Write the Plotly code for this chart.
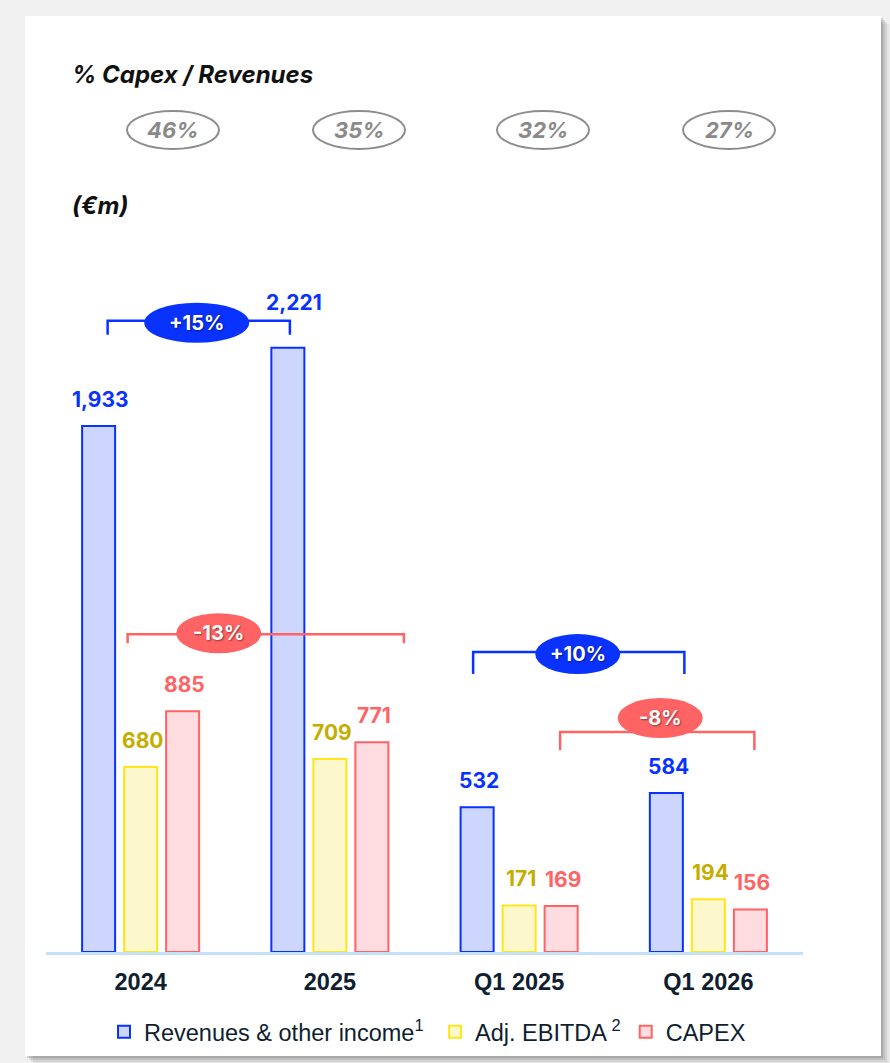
import plotly.graph_objects as go

# ---------------- data ----------------
categories = ["2024", "2025", "Q1 2025", "Q1 2026"]
revenues = [1933, 2221, 532, 584]
adj_ebitda = [680, 709, 171, 194]
capex = [885, 771, 169, 156]
series_names = [
    "Revenues & other income<sup>1</sup>\u00a0",
    "Adj. EBITDA<sup> 2</sup>",
    "CAPEX",
]

# ---------------- geometry / style ----------------
W, H = 890, 1063
ML, MR, MT, MB = 46, 87, 280, 111
PW, PH = W - ML - MR, H - MT - MB
YMAX = 2470
NCAT = len(categories)
SLOT = 42  # px between bars inside a group

def fx(px):
    return (px - ML) / PW

def fy(py):
    return (H - MB - py) / PH

def cat_px(i):
    return ML + (i + 0.5) * PW / NCAT

def val_py(v):
    return H - MB - v * PH / YMAX

BLUE, BLUE_FILL = "#0a32ff", "#ccd6ff"
YEL, YEL_FILL, YEL_TXT = "#ffe51a", "#fdf8cc", "#c4ad00"
RED, RED_FILL = "#ff6363", "#ffdcdf"
INK = "#0f1e30"

styles = [
    dict(fill=BLUE_FILL, line=BLUE, txt=BLUE),
    dict(fill=YEL_FILL, line=YEL, txt=YEL_TXT),
    dict(fill=RED_FILL, line=RED, txt=RED),
]
all_series = [revenues, adj_ebitda, capex]
xidx = list(range(NCAT))

fig = go.Figure()
for name, vals, st in zip(series_names, all_series, styles):
    fig.add_trace(go.Bar(
        x=categories, y=vals, name=name,
        marker=dict(color=st["fill"], line=dict(color=st["line"], width=2)),
        hoverinfo="skip",
    ))

shapes = []
annotations = []

# card + shadow
for k, a in enumerate([0.05, 0.07, 0.09, 0.12]):
    off = 8 - 2 * k
    shapes.append(dict(type="rect", xref="paper", yref="paper", layer="below",
                       x0=fx(25 + off), x1=fx(881 + off), y0=fy(1056 + off), y1=fy(16 + off),
                       fillcolor=f"rgba(0,0,0,{a})", line=dict(width=0)))
shapes.append(dict(type="rect", xref="paper", yref="paper", layer="below",
                   x0=fx(25), x1=fx(881), y0=fy(1056), y1=fy(16),
                   fillcolor="white", line=dict(width=0)))

# value labels
for j, (vals, st) in enumerate(zip(all_series, styles)):
    for i, v in enumerate(vals):
        ys = 27
        xs = (j - 1) * SLOT + 2
        if j == 0 and v == max(revenues):
            ys, xs = 45, (j - 1) * SLOT + 6
        annotations.append(dict(
            x=xidx[i], y=v, xref="x", yref="y", showarrow=False,
            xshift=xs, yshift=ys, xanchor="center", yanchor="middle",
            text=f"{v:,}",
            font=dict(family="Inter", size=21, color=st["txt"], weight="bold"),
        ))

# titles
annotations.append(dict(x=fx(70), y=fy(74), xref="paper", yref="paper", xanchor="left",
                        yanchor="middle", showarrow=False, text="<b><i>% Capex / Revenues</i></b>",
                        font=dict(family="Inter", size=24, color="#111111")))
annotations.append(dict(x=fx(70), y=fy(206), xref="paper", yref="paper", xanchor="left",
                        yanchor="middle", showarrow=False, text="<b><i>(€m)</i></b>",
                        font=dict(family="Inter", size=24, color="#111111")))

# capex / revenue ellipses
PCT_X = [173, 359, 543, 729]
PCT_Y = 130
for px, c, r in zip(PCT_X, capex, revenues):
    pct = round(100 * c / r)
    shapes.append(dict(type="circle", xref="paper", yref="paper",
                       x0=fx(px - 46), x1=fx(px + 46), y0=fy(PCT_Y + 19), y1=fy(PCT_Y - 19),
                       fillcolor="white", line=dict(color="#8c8c8c", width=2)))
    annotations.append(dict(x=fx(px), y=fy(PCT_Y), xref="paper", yref="paper", showarrow=False,
                            xanchor="center", yanchor="middle",
                            text=f"<b><i>{pct}%</i></b>",
                            font=dict(family="Inter", size=22, color="#8a8a8a")))

# growth brackets
brackets = [
    dict(s=0, a=0, b=1, dx0=-33, dx1=-40, rise=27, leg=14, ecx=-2, ecy=2, ew=105, col=BLUE),
    dict(s=2, a=0, b=1, dx0=-13, dx1=74, rise=77, leg=9, ecx=-47, ecy=-1, ew=85, col=RED),
    dict(s=0, a=2, b=3, dx0=-46, dx1=-24, rise=141, leg=22, ecx=-1, ecy=2, ew=85, col=BLUE),
    dict(s=2, a=2, b=3, dx0=41, dx1=46, rise=174, leg=18, ecx=3, ecy=-14, ew=85, col=RED),
]
for br in brackets:
    vals = all_series[br["s"]]
    va, vb = vals[br["a"]], vals[br["b"]]
    x0 = cat_px(br["a"]) + br["dx0"]
    x1 = cat_px(br["b"]) + br["dx1"]
    yl = val_py(max(va, vb)) - br["rise"]
    yb = yl + br["leg"]
    path = (f"M {fx(x0)},{fy(yb)} L {fx(x0)},{fy(yl)} "
            f"L {fx(x1)},{fy(yl)} L {fx(x1)},{fy(yb)}")
    shapes.append(dict(type="path", xref="paper", yref="paper", path=path,
                       line=dict(color=br["col"], width=2.5)))
    cx = (x0 + x1) / 2 + br["ecx"]
    cy = yl + br["ecy"]
    shapes.append(dict(type="circle", xref="paper", yref="paper",
                       x0=fx(cx - br["ew"] / 2), x1=fx(cx + br["ew"] / 2),
                       y0=fy(cy + 20), y1=fy(cy - 20),
                       fillcolor=br["col"], line=dict(width=0)))
    chg = round(100 * (vb / va - 1))
    annotations.append(dict(x=fx(cx), y=fy(cy), xref="paper", yref="paper", showarrow=False,
                            xanchor="center", yanchor="middle",
                            text=f"<b>{chg:+d}%</b>",
                            font=dict(family="Inter", size=20, color="white",
                                      shadow="1px 1px 2px rgba(0,0,0,0.45)")))

fig.update_layout(
    width=W, height=H,
    margin=dict(l=ML, r=MR, t=MT, b=MB, autoexpand=False),
    paper_bgcolor="#f0f0f0",
    plot_bgcolor="rgba(0,0,0,0)",
    barmode="group",
    bargap=0.334,
    bargroupgap=0.214,
    shapes=shapes,
    annotations=annotations,
    showlegend=True,
    legend=dict(orientation="h", x=fx(104), xanchor="left", y=fy(1032), yanchor="middle",
                font=dict(family="Liberation Sans", size=23.5, color=INK),
                bgcolor="rgba(0,0,0,0)", traceorder="normal", itemclick=False),
    xaxis=dict(type="category", range=[-0.5, NCAT - 0.5], showline=True, linecolor="#c3e2f7",
               linewidth=3, ticks="", showgrid=False, zeroline=False, fixedrange=True,
               tickfont=dict(family="Liberation Sans", size=23.5, color=INK, weight="bold"),
               ticklabelstandoff=7),
    yaxis=dict(range=[0, YMAX], visible=False, showgrid=False, zeroline=False, fixedrange=True),
)

fig.write_html("out.html")
